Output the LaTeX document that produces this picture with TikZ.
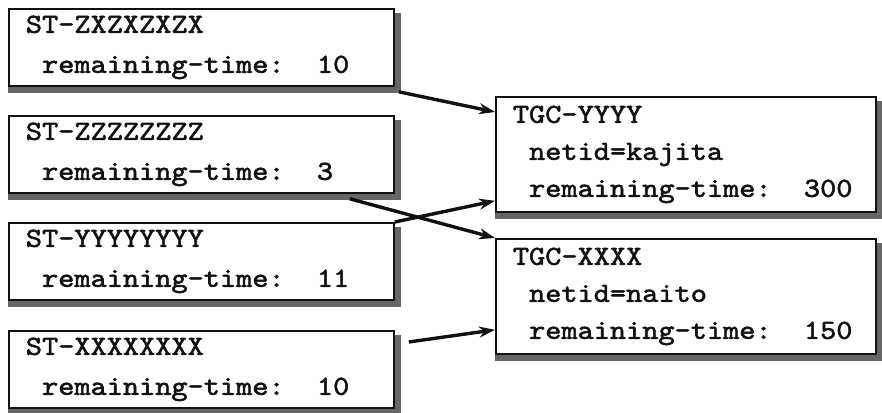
\documentclass[tikz,border=0pt]{standalone}
\usepackage{fontspec}
\newfontfamily\boxfont{lmmono10-regular.otf}[FakeStretch=1.12,FakeBold=2]
\usepackage{xcolor}
\usepackage{tikz}
\usetikzlibrary{arrows.meta,calc}
\definecolor{ink}{HTML}{111111}
\definecolor{shade}{HTML}{666666}
\newcommand{\indsp}{\hphantom{0}}
\newcommand{\gapsp}{\hphantom{00}}
\tikzset{
  box/.style={draw=ink, line width=1.8pt, anchor=north west, inner xsep=17pt, inner ysep=0pt,
    align=left, text=ink, font=\boxfont\fontsize{27.5}{40}\selectfont},
  stbox/.style={box, text width=351pt, minimum height=77pt},
  tgcbox/.style={box, text width=346pt, minimum height=115pt,
    font=\boxfont\fontsize{27.5}{37}\selectfont},
  shd/.style={fill=shade},
  link/.style={-{Stealth[length=16pt,width=11pt]}, line width=3.4pt, draw=ink}
}
\begin{document}
\begin{tikzpicture}[x=1pt,y=-1pt]
  \useasboundingbox (0,0) rectangle (882,412);

  \node[stbox] (st1) at (8,8) {ST-ZXZXZXZX\\\indsp remaining-time:\gapsp 10};
  \node[stbox] (st2) at (8,115) {ST-ZZZZZZZZ\\\indsp remaining-time:\gapsp 3};
  \node[stbox] (st3) at (8,222) {ST-YYYYYYYY\\\indsp remaining-time:\gapsp 11};
  \node[stbox] (st4) at (8,330) {ST-XXXXXXXX\\\indsp remaining-time:\gapsp 10};

  \node[tgcbox] (tgc1) at (495,96) {TGC-YYYY\\\indsp netid=kajita\\\indsp remaining-time:\gapsp 300};
  \node[tgcbox] (tgc2) at (495,238) {TGC-XXXX\\\indsp netid=naito\\\indsp remaining-time:\gapsp 150};

  % shadows on right and bottom
  \foreach \b in {st1,st2,st3,st4,tgc1,tgc2}{
    \fill[shd] ($(\b.north east)+(0,5)$) rectangle ($(\b.south east)+(6,6)$);
    \fill[shd] (\b.south west) rectangle ($(\b.south east)+(6,6)$);
  }

  \draw[link] ($(st1.south east)+(4,5)$) -- ($(tgc1.north west)+(0,16)$);
  \draw[link] ($(st2.south east)+(-45,5)$) -- (tgc2.north west);
  \draw[link] (st3.north east) -- ($(tgc1.south west)+(0,-12)$);
  \draw[link] ($(st4.north east)+(14,12)$) -- ($(tgc2.south west)+(0,-25)$);
\end{tikzpicture}
\end{document}
